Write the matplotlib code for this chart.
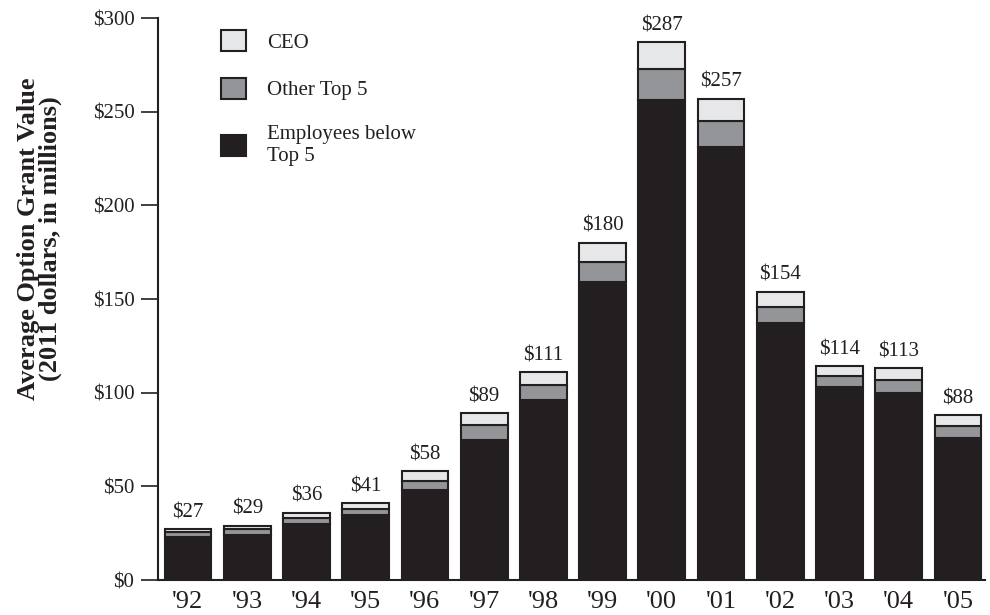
import matplotlib.pyplot as plt
import numpy as np

years = ["'92", "'93", "'94", "'95", "'96", "'97", "'98", "'99", "'00", "'01", "'02", "'03", "'04", "'05"]
totals = [27, 29, 36, 41, 58, 89, 111, 180, 287, 257, 154, 114, 113, 88]
employees = [23, 24, 30, 34.5, 48, 75, 96, 159, 256, 231, 137, 103, 100, 76]
other_top5 = [2.5, 3, 3, 3.5, 5, 8, 8, 11, 17, 14, 9, 6, 7, 6]
ceo = [t - e - o for t, e, o in zip(totals, employees, other_top5)]

plt.rcParams["font.family"] = ["Liberation Serif", "DejaVu Serif"]

EDGE = "#231f20"
C_CEO = "#e6e7e8"
C_OTHER = "#939598"
C_EMP = "#231f20"

fig = plt.figure(figsize=(9.9, 6.15), dpi=100)
ax = fig.add_axes([0.1596, 0.0569, 0.835, 0.9138])

x = np.arange(len(years))
w = 0.79
emp = np.array(employees)
oth = np.array(other_top5)
bars_emp = ax.bar(x, emp, w, color=C_EMP, edgecolor=EDGE, linewidth=1.5)
bars_oth = ax.bar(x, oth, w, bottom=emp, color=C_OTHER, edgecolor=EDGE, linewidth=1.5)
bars_ceo = ax.bar(x, ceo, w, bottom=emp + oth, color=C_CEO, edgecolor=EDGE, linewidth=1.5)

# value labels on top
for xi, t in zip(x, totals):
    ax.annotate("$%d" % t, (xi, t), xytext=(0, 5), textcoords="offset points",
                ha="center", va="bottom", fontsize=15, color="#231f20")

ax.set_xlim(-0.506, 13.45)
ax.set_ylim(0, 300)
ax.set_yticks(np.arange(0, 301, 50))
ax.set_yticklabels(["$%d" % v for v in range(0, 301, 50)], fontsize=15, color="#231f20")
ax.set_xticks(x)
ax.set_xticklabels(years, fontsize=19, color="#231f20")
ax.tick_params(axis="x", length=0, pad=8)
ax.tick_params(axis="y", length=12, width=1.2, color=EDGE, pad=5)

for s in ["top", "right"]:
    ax.spines[s].set_visible(False)
for s in ["left", "bottom"]:
    ax.spines[s].set_linewidth(1.5)
    ax.spines[s].set_color(EDGE)

ax.set_ylabel("Average Option Grant Value\n(2011 dollars, in millions)",
              fontsize=19, fontweight="bold", color="#231f20", linespacing=0.9)
ax.yaxis.set_label_coords(-0.116, 0.607)

handles = [bars_ceo, bars_oth, bars_emp]
labels = ["CEO", "Other Top 5", "Employees below\nTop 5"]
leg = ax.legend(handles, labels, loc="upper left", bbox_to_anchor=(0.076, 0.979),
                frameon=False, fontsize=15, handlelength=1.2, handleheight=1.2,
                labelspacing=1.2, handletextpad=1.0, borderpad=0, borderaxespad=0)
for t in leg.get_texts():
    t.set_color("#231f20")

fig.savefig("out.png", dpi=100)
